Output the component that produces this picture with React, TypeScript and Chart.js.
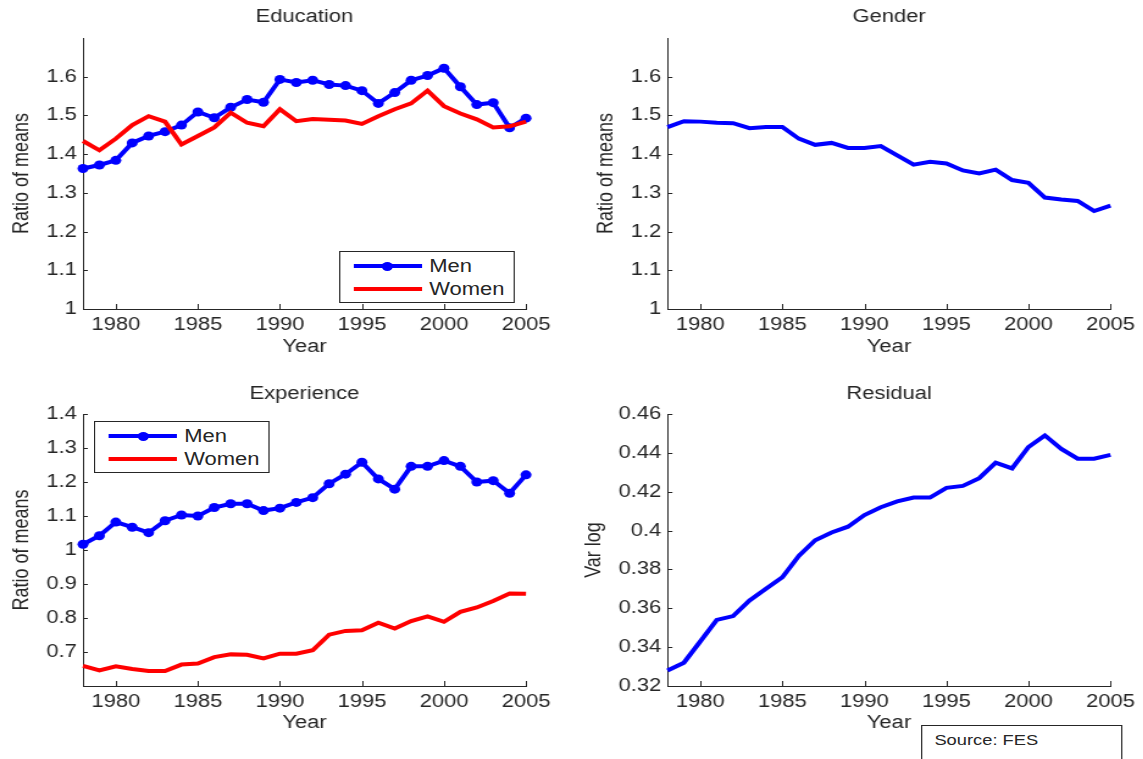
import { useEffect, useRef } from "react";
import { Chart, ChartConfiguration, registerables } from "chart.js";

Chart.register(...registerables);

// ---- data ----
const YEARS = [
  1978, 1979, 1980, 1981, 1982, 1983, 1984, 1985, 1986, 1987, 1988, 1989, 1990, 1991,
  1992, 1993, 1994, 1995, 1996, 1997, 1998, 1999, 2000, 2001, 2002, 2003, 2004, 2005,
];

const EDU_MEN = [
  1.363, 1.372, 1.384, 1.429, 1.447, 1.458, 1.475, 1.509, 1.494, 1.521, 1.541, 1.534, 1.593, 1.585,
  1.591, 1.58, 1.577, 1.564, 1.531, 1.559, 1.591, 1.603, 1.622, 1.574, 1.528, 1.533, 1.468, 1.493,
];
const EDU_WOMEN = [
  1.434, 1.41, 1.44, 1.475, 1.498, 1.484, 1.425, 1.447, 1.469, 1.507, 1.481, 1.472, 1.516, 1.485,
  1.491, 1.489, 1.487, 1.478, 1.498, 1.516, 1.531, 1.564, 1.524, 1.505, 1.49, 1.469, 1.472, 1.484,
];
const GENDER = [
  1.47, 1.485, 1.484, 1.481, 1.48, 1.467, 1.47, 1.47, 1.44, 1.424, 1.429, 1.416, 1.416, 1.421,
  1.397, 1.373, 1.38, 1.376, 1.358, 1.35, 1.36, 1.333, 1.326, 1.288, 1.283, 1.279, 1.253, 1.267,
];
const EXP_MEN = [
  1.017, 1.042, 1.082, 1.067, 1.051, 1.086, 1.103, 1.1, 1.125, 1.136, 1.136, 1.116, 1.123, 1.14,
  1.154, 1.195, 1.223, 1.258, 1.209, 1.179, 1.246, 1.246, 1.263, 1.246, 1.2, 1.204, 1.167, 1.221,
];
const EXP_WOMEN = [
  0.659, 0.646, 0.658, 0.65, 0.644, 0.644, 0.663, 0.666, 0.685, 0.693, 0.692, 0.681, 0.695, 0.695,
  0.705, 0.751, 0.762, 0.764, 0.786, 0.769, 0.791, 0.805, 0.789, 0.818, 0.831, 0.85, 0.872, 0.871,
];
const RESIDUAL = [
  0.328, 0.332, 0.343, 0.354, 0.356, 0.364, 0.37, 0.376, 0.387, 0.395, 0.399, 0.402, 0.408, 0.412,
  0.415, 0.417, 0.417, 0.422, 0.423, 0.427, 0.435, 0.432, 0.443, 0.449, 0.442, 0.437, 0.437, 0.439,
];

const X_TICKS = [1980, 1985, 1990, 1995, 2000, 2005];
const RATIO_TICKS = [1, 1.1, 1.2, 1.3, 1.4, 1.5, 1.6];
const EXP_TICKS = [0.7, 0.8, 0.9, 1, 1.1, 1.2, 1.3, 1.4];
const VAR_TICKS = [0.32, 0.34, 0.36, 0.38, 0.4, 0.42, 0.44, 0.46];

// ---- look ----
// the original figure is stretched sideways, so everything is drawn narrow and scaled in x
const S = 1.22;
const FONT = '"Liberation Sans", Arial, sans-serif';
const INK = "#262626";
const BLUE = "#0000ff";
const RED = "#ff0000";
const LH = 18 * 1.2;

const fmt = (v: number | string) => String(Number(Number(v).toFixed(3)));

// title centred over the plot area, not over the canvas
const panelTitle = {
  id: "panelTitle",
  afterDraw(chart: Chart, _args: unknown, opts: { text: string; y: number }) {
    const { ctx, chartArea } = chart;
    ctx.save();
    ctx.font = `18px ${FONT}`;
    ctx.fillStyle = INK;
    ctx.textAlign = "center";
    ctx.textBaseline = "middle";
    ctx.fillText(opts.text, (chartArea.left + chartArea.right) / 2, opts.y);
    ctx.restore();
  },
};

// matlab style ticks pointing into the plot
const innerTicks = {
  id: "innerTicks",
  beforeDatasetsDraw(chart: Chart) {
    const { ctx, chartArea, scales } = chart;
    ctx.save();
    ctx.strokeStyle = INK;
    ctx.lineWidth = 1;
    ctx.beginPath();
    for (const t of scales.x.ticks) {
      const px = Math.round(scales.x.getPixelForValue(t.value)) + 0.5;
      ctx.moveTo(px, chartArea.bottom);
      ctx.lineTo(px, chartArea.bottom - 5);
    }
    for (const t of scales.y.ticks) {
      const py = Math.round(scales.y.getPixelForValue(t.value)) + 0.5;
      ctx.moveTo(chartArea.left, py);
      ctx.lineTo(chartArea.left + 4, py);
    }
    ctx.stroke();
    ctx.restore();
  },
};

type Series = { label: string; values: number[]; color: string; markers: boolean };

type PanelProps = {
  x0: number; y0: number; w: number; h: number;
  plot: { left: number; right: number; top: number; bottom: number };
  titleY: number; yTitleX: number; xTitleY: number;
  title: string; yTitle: string;
  yMin: number; yMax: number; yTicks: number[];
  series: Series[];
};

function Panel(p: PanelProps) {
  const chartRef = useRef<HTMLCanvasElement>(null);
  const cw = Math.round(p.w / S);
  const ch = Math.round(p.h);

  useEffect(() => {
    if (!chartRef.current) return;
    const yWidth = (p.plot.left - p.x0) / S;
    const padRight = cw - (p.plot.right - p.x0) / S;
    const xScaleBottom = p.xTitleY - p.y0 + LH / 2;
    const xHeight = xScaleBottom - (p.plot.bottom - p.y0);
    const padBottom = ch - xScaleBottom;
    const yTitlePad = (p.yTitleX - p.x0) / S - LH / 2;

    const font = { family: FONT, size: 18 };

    const config: ChartConfiguration = {
      type: "line",
      data: {
        datasets: p.series.map((s, i) => ({
          label: s.label,
          data: YEARS.map((x, j) => ({ x, y: s.values[j] })),
          borderColor: s.color,
          backgroundColor: s.color,
          borderWidth: 4,
          pointRadius: s.markers ? 4.5 : 0,
          pointBorderWidth: 0,
          pointHoverRadius: 4.5,
          tension: 0,
          clip: false as any,
          order: p.series.length - i,
        })),
      },
      options: {
        animation: false,
        responsive: false,
        events: [],
        layout: {
          padding: { left: 0, right: padRight, top: p.plot.top - p.y0, bottom: padBottom },
        },
        plugins: {
          legend: { display: false },
          tooltip: { enabled: false },
          panelTitle: { text: p.title, y: p.titleY - p.y0 },
        } as any,
        scales: {
          x: {
            type: "linear",
            min: 1978,
            max: 2005,
            grid: { display: false, drawTicks: false },
            border: { display: true, color: INK, width: 1 },
            ticks: {
              color: INK, font, padding: 5, autoSkip: false, maxRotation: 0,
              callback: (v) => String(v),
            },
            afterBuildTicks: (s) => { s.ticks = X_TICKS.map((value) => ({ value })); },
            afterFit: (s) => { s.height = xHeight; },
            title: { display: true, text: "Year", color: INK, font, padding: 0 },
          },
          y: {
            type: "linear",
            min: p.yMin,
            max: p.yMax,
            grid: { display: false, drawTicks: false },
            border: { display: true, color: INK, width: 1 },
            ticks: { color: INK, font, padding: 5, autoSkip: false, callback: (v) => fmt(v) },
            afterBuildTicks: (s) => { s.ticks = p.yTicks.map((value) => ({ value })); },
            afterFit: (s) => { s.width = yWidth; },
            title: {
              display: true, text: p.yTitle, color: INK, font,
              padding: { top: yTitlePad, bottom: 0 },
            },
          },
        },
      },
      plugins: [panelTitle, innerTicks],
    };

    const chart = new Chart(chartRef.current, config);
    return () => chart.destroy();
  }, []);

  return (
    <canvas
      ref={chartRef}
      width={cw}
      height={ch}
      style={{ position: "absolute", left: p.x0 / S, top: p.y0, width: cw, height: ch }}
    />
  );
}

function Legend({ left, top }: { left: number; top: number }) {
  const row = (y: number, color: string, label: string, marker: boolean) => (
    <>
      <div style={{ position: "absolute", left: 11, top: y - 2, width: 56, height: 4, background: color }} />
      {marker && (
        <div style={{
          position: "absolute", left: 34.5, top: y - 4.5, width: 9, height: 9,
          borderRadius: "50%", background: color,
        }} />
      )}
      <div style={{
        position: "absolute", left: 73, top: y - 11, lineHeight: "22px",
        fontSize: 18, fontFamily: FONT, color: INK, whiteSpace: "nowrap",
      }}>{label}</div>
    </>
  );
  return (
    <div style={{
      position: "absolute", left: left / S, top, width: 144, height: 52,
      border: `1px solid ${INK}`, background: "#fff", boxSizing: "border-box",
    }}>
      {row(14, BLUE, "Men", true)}
      {row(37, RED, "Women", false)}
    </div>
  );
}

export default function App() {
  return (
    <div style={{
      position: "fixed", left: 0, top: 0, width: 1143, height: 759,
      overflow: "hidden", background: "#fff",
    }}>
      <div style={{
        position: "absolute", left: 0, top: 0, width: 1143 / S, height: 759,
        transform: `scaleX(${S})`, transformOrigin: "0 0",
      }}>
        <Panel
          x0={0} y0={0} w={580} h={370}
          plot={{ left: 83, right: 526, top: 38, bottom: 309 }}
          titleY={17} yTitleX={22} xTitleY={347}
          title="Education" yTitle="Ratio of means"
          yMin={1} yMax={1.7} yTicks={RATIO_TICKS}
          series={[
            { label: "Men", values: EDU_MEN, color: BLUE, markers: true },
            { label: "Women", values: EDU_WOMEN, color: RED, markers: false },
          ]}
        />
        <Panel
          x0={580} y0={0} w={563} h={370}
          plot={{ left: 668, right: 1111, top: 38, bottom: 309 }}
          titleY={17} yTitleX={606.5} xTitleY={347}
          title="Gender" yTitle="Ratio of means"
          yMin={1} yMax={1.7} yTicks={RATIO_TICKS}
          series={[{ label: "Gender", values: GENDER, color: BLUE, markers: false }]}
        />
        <Panel
          x0={0} y0={370} w={580} h={389}
          plot={{ left: 83, right: 526, top: 414, bottom: 686 }}
          titleY={394} yTitleX={21.6} xTitleY={723}
          title="Experience" yTitle="Ratio of means"
          yMin={0.6} yMax={1.4} yTicks={EXP_TICKS}
          series={[
            { label: "Men", values: EXP_MEN, color: BLUE, markers: true },
            { label: "Women", values: EXP_WOMEN, color: RED, markers: false },
          ]}
        />
        <Panel
          x0={580} y0={370} w={563} h={389}
          plot={{ left: 668, right: 1111, top: 414, bottom: 686 }}
          titleY={394} yTitleX={595} xTitleY={723}
          title="Residual" yTitle="Var log"
          yMin={0.32} yMax={0.46} yTicks={VAR_TICKS}
          series={[{ label: "Residual", values: RESIDUAL, color: BLUE, markers: false }]}
        />
        <Legend left={339} top={251} />
        <Legend left={94} top={421} />
        <div style={{
          position: "absolute", left: 921 / S, top: 725, width: 201 / S, height: 40,
          border: `1px solid ${INK}`, background: "#fff", boxSizing: "border-box",
        }}>
          <div style={{
            position: "absolute", left: 10, top: 5, lineHeight: "18px",
            fontSize: 15, fontFamily: FONT, color: INK, whiteSpace: "nowrap",
          }}>Source: FES</div>
        </div>
      </div>
    </div>
  );
}
